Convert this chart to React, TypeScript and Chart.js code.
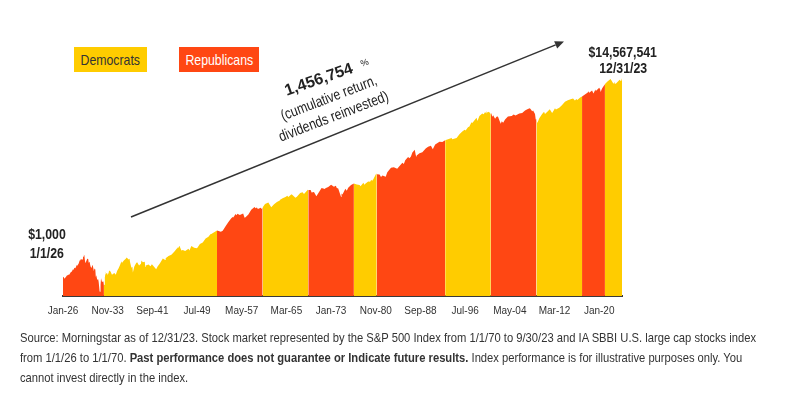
import React, { useEffect, useRef } from 'react';
import { Chart, registerables } from 'chart.js';

Chart.register(...registerables);

// Growth of $1,000 (month-end dates, value in $)
const dates = [
  '1925-12','1926-02','1926-03','1926-06','1926-09','1926-10','1926-12',
  '1927-01','1927-05','1927-06','1927-09','1927-10','1927-12',
  '1928-02','1928-05','1928-06','1928-09','1928-11','1928-12',
  '1929-01','1929-05','1929-06','1929-07','1929-08','1929-09','1929-10','1929-11','1929-12',
  '1930-03','1930-05','1930-06','1930-08','1930-09','1930-10','1930-12',
  '1931-02','1931-03','1931-05','1931-06','1931-08','1931-09','1931-10','1931-12',
  '1932-02','1932-03','1932-04','1932-05','1932-06','1932-07','1932-08','1932-10','1932-12',
  '1933-01','1933-02','1933-03','1933-04','1933-05','1933-06','1933-07','1933-09','1933-10','1933-12',
  '1934-01','1934-04','1934-07','1934-12',
  '1935-03','1935-06','1935-09','1935-12',
  '1936-03','1936-04','1936-08','1936-12',
  '1937-02','1937-06','1937-08','1937-09','1937-10','1937-12',
  '1938-02','1938-03','1938-06','1938-10','1938-12',
  '1939-04','1939-08','1939-09','1939-12',
  '1940-04','1940-05','1940-06','1940-12',
  '1941-04','1941-07','1941-12',
  '1942-04','1942-07','1942-12',
  '1943-06','1943-11','1943-12',
  '1944-06','1944-12',
  '1945-06','1945-12',
  '1946-01','1946-02','1946-05','1946-09','1946-12',
  '1947-05','1947-12',
  '1948-02','1948-06','1948-12',
  '1949-06','1949-12',
  '1950-06','1950-12',
  '1951-06','1951-10','1951-12',
  '1952-06','1952-12',
  '1953-08','1953-12',
  '1954-06','1954-12',
  '1955-06','1955-09','1955-10','1955-12',
  '1956-03','1956-05','1956-07','1956-12',
  '1957-07','1957-10','1957-12',
  '1958-06','1958-12',
  '1959-07','1959-09','1959-12',
  '1960-02','1960-08','1960-10','1960-12',
  '1961-05','1961-12',
  '1962-06','1962-12',
  '1963-06','1963-11','1963-12',
  '1964-06','1964-12',
  '1965-04','1965-06','1965-12',
  '1966-01','1966-09','1966-12',
  '1967-07','1967-12',
  '1968-03','1968-11','1968-12',
  '1969-05','1969-07','1969-12',
  '1970-05','1970-12',
  '1971-04','1971-11','1971-12',
  '1972-06','1972-12',
  '1973-06','1973-10','1973-12',
  '1974-03','1974-09','1974-10','1974-12',
  '1975-06','1975-09','1975-12',
  '1976-06','1976-12',
  '1977-06','1977-12',
  '1978-02','1978-08','1978-10','1978-12',
  '1979-06','1979-10','1979-12',
  '1980-02','1980-03','1980-11','1980-12',
  '1981-06','1981-09','1981-12',
  '1982-07','1982-10','1982-12',
  '1983-06','1983-12',
  '1984-07','1984-12',
  '1985-06','1985-09','1985-12',
  '1986-06','1986-09','1986-12',
  '1987-03','1987-08','1987-10','1987-11','1987-12',
  '1988-06','1988-12',
  '1989-07','1989-12',
  '1990-06','1990-10','1990-12',
  '1991-03','1991-12',
  '1992-06','1992-12',
  '1993-06','1993-12',
  '1994-01','1994-03','1994-12',
  '1995-06','1995-12',
  '1996-05','1996-07','1996-12',
  '1997-03','1997-07','1997-10','1997-12',
  '1998-06','1998-08','1998-12',
  '1999-06','1999-09','1999-12',
  '2000-02','2000-03','2000-05','2000-08','2000-12',
  '2001-01','2001-03','2001-05','2001-09','2001-12',
  '2002-03','2002-07','2002-09','2002-11','2002-12',
  '2003-02','2003-06','2003-12',
  '2004-08','2004-12',
  '2005-04','2005-12',
  '2006-06','2006-12',
  '2007-06','2007-10','2007-12',
  '2008-03','2008-05','2008-09','2008-10','2008-11','2008-12',
  '2009-02','2009-06','2009-12',
  '2010-04','2010-06','2010-12',
  '2011-04','2011-09','2011-12',
  '2012-03','2012-05','2012-12',
  '2013-06','2013-12',
  '2014-06','2014-12',
  '2015-05','2015-09','2015-12',
  '2016-02','2016-08','2016-12',
  '2017-06','2017-12',
  '2018-01','2018-03','2018-09','2018-12',
  '2019-04','2019-05','2019-12',
  '2020-02','2020-03','2020-06','2020-12',
  '2021-06','2021-12',
  '2022-06','2022-08','2022-09','2022-12',
  '2023-07','2023-10','2023-12',
];

const values = [
  1000,961,906,985,1090,1058,1116,
  1100,1270,1262,1440,1380,1535,
  1505,1760,1690,1900,2190,2204,
  2332,2290,2550,2670,2942,2800,2249,1968,2019,
  2384,2341,1960,2060,1797,1642,1516,
  1775,1654,1307,1492,1410,991,1079,859,
  883,781,625,487,486,671,930,777,789,
  796,655,678,963,1125,1275,1166,1180,1090,1215,
  1345,1290,1100,1197,
  1100,1330,1500,1768,
  2100,1930,2200,2368,
  2545,2290,2380,2040,1840,1538,
  1625,1225,1630,1950,2017,
  1720,1880,2190,2009,
  2070,1600,1720,1812,
  1650,1830,1602,
  1430,1640,1928,
  2400,2240,2427,
  2720,2906,
  3350,3965,
  4250,3970,4480,3560,3645,
  3470,3853,
  3560,4400,4065,
  3950,4829,
  5200,6360,
  6930,7800,7888,
  8600,9337,
  8760,9245,
  11500,14109,
  16900,18000,17500,18562,
  20700,19400,21000,19780,
  21300,17300,17648,
  20200,25300,
  28900,27200,28326,
  26500,28100,26500,28459,
  33400,36112,
  28600,32959,
  37000,39300,40474,
  44200,47144,
  49900,47200,53014,
  53700,45500,47681,
  57100,59115,
  54500,66700,65653,
  65800,58800,60072,
  48600,62481,
  72400,69000,71422,
  76300,84978,
  77000,80800,72520,
  71300,47100,55400,53324,
  70000,63900,73161,
  84300,90603,
  86200,84098,
  78700,93100,85000,89615,
  99200,98000,106140,
  112300,101900,145900,140551,
  139000,124000,133650,
  124500,154000,162264,
  194000,198790,
  185000,211254,
  247000,232000,279194,
  325000,306000,330761,
  404000,460000,360000,331000,348060,
  390000,406570,
  490000,534600,
  560000,470000,517654,
  592000,675797,
  670000,727630,
  762000,800320,
  828000,768000,810800,
  975000,1114283,
  1210000,1165000,1371348,
  1410000,1720000,1700000,1828830,
  2150000,1850000,2351510,
  2640000,2560000,2846270,
  2700000,2960000,2800000,2900000,2586975,
  2680000,2270000,2450000,2060000,2279643,
  2290000,1800000,1610000,1820000,1775842,
  1690000,1990000,2285153,
  2340000,2533777,
  2420000,2658186,
  2730000,3077904,
  3290000,3420000,3246881,
  2960000,3070000,2590000,2150000,1990000,2045535,
  1670000,2110000,2586784,
  2880000,2590000,2976354,
  3250000,2730000,3039155,
  3440000,3230000,3525420,
  4000000,4667303,
  5030000,5306247,
  5450000,4960000,5379473,
  5120000,5760000,6022858,
  6640000,7337650,
  7760000,7270000,8020000,7016260,
  8460000,7920000,9225780,
  8530000,7480000,8900000,10923323,
  12600000,14059410,
  11230000,12100000,10990000,11513250,
  13580000,12600000,14567541,
];

// Start of each presidential party period (month-end before inauguration)
const termStarts = ['1925-12','1933-02','1952-12','1960-12','1968-12','1976-12','1980-12','1992-12','2000-12','2008-12','2016-12','2020-12'];
const termParties = ['R','D','R','D','R','D','R','D','R','D','R','D'];

const tickLabels = ['Jan-26','Nov-33','Sep-41','Jul-49','May-57','Mar-65','Jan-73','Nov-80','Sep-88','Jul-96','May-04','Mar-12','Jan-20'];

const DEM = '#FFCC00';
const REP = '#FF4713';
const MONTHS = ['Jan','Feb','Mar','Apr','May','Jun','Jul','Aug','Sep','Oct','Nov','Dec'];

function dateToX(d: string): number {
  const [y, m] = d.split('-').map(Number);
  return y + m / 12;
}
function labelToX(l: string): number {
  const [mon, yy] = l.split('-');
  const n = Number(yy);
  const year = n < 25 ? 2000 + n : 1900 + n;
  return year + MONTHS.indexOf(mon) / 12;
}

const xs = dates.map(dateToX);
const termXs = termStarts.map(dateToX);
const tickXs = tickLabels.map(labelToX);

function partyColor(x: number): string {
  let p = termParties[0];
  for (let i = 0; i < termXs.length; i++) {
    if (x >= termXs[i] - 1e-6) p = termParties[i];
  }
  return p === 'D' ? DEM : REP;
}

const arrowPlugin = {
  id: 'arrowAnno',
  afterDraw(chart: any) {
    const ctx = chart.ctx as CanvasRenderingContext2D;
    const x0 = 131, y0 = 217, x1 = 564, y1 = 41.5;
    const ang = Math.atan2(y1 - y0, x1 - x0);
    const headLen = 9, headW = 4;
    const bx = x1 - headLen * Math.cos(ang);
    const by = y1 - headLen * Math.sin(ang);
    ctx.save();
    ctx.strokeStyle = '#333333';
    ctx.lineWidth = 1.5;
    ctx.beginPath();
    ctx.moveTo(x0, y0);
    ctx.lineTo(bx, by);
    ctx.stroke();
    ctx.fillStyle = '#333333';
    ctx.beginPath();
    ctx.moveTo(x1, y1);
    ctx.lineTo(bx - headW * Math.sin(ang), by + headW * Math.cos(ang));
    ctx.lineTo(bx + headW * Math.sin(ang), by - headW * Math.cos(ang));
    ctx.closePath();
    ctx.fill();
    ctx.restore();
  },
};

const SANS = "'Liberation Sans', Arial, Helvetica, sans-serif";
const NARROW_SCALE = 0.82;

export default function App() {
  const canvasRef = useRef<HTMLCanvasElement | null>(null);

  useEffect(() => {
    if (!canvasRef.current) return;
    const chart = new Chart(canvasRef.current, {
      type: 'line',
      data: {
        datasets: [
          {
            data: xs.map((x, i) => ({ x, y: values[i] })),
            fill: 'start',
            backgroundColor: REP,
            borderColor: 'rgba(0,0,0,0)',
            borderWidth: 0,
            pointRadius: 0,
            tension: 0,
            segment: {
              backgroundColor: (ctx: any) => partyColor(xs[ctx.p0DataIndex]),
              borderColor: () => 'rgba(0,0,0,0)',
            },
          } as any,
        ],
      },
      options: {
        animation: false,
        responsive: false,
        events: [],
        layout: { padding: { left: 63, right: 174, top: 60, bottom: 4 } },
        plugins: { legend: { display: false }, tooltip: { enabled: false } },
        scales: {
          x: {
            type: 'linear',
            min: 1926,
            max: 2024,
            grid: { display: false, drawTicks: false },
            border: { display: true, color: '#3a3a3a', width: 2 },
            afterBuildTicks: (scale: any) => {
              scale.ticks = tickXs.map((v) => ({ value: v }));
            },
            afterFit: (scale: any) => {
              scale.height = 30;
            },
            ticks: {
              autoSkip: false,
              maxRotation: 0,
              padding: 9,
              color: '#333333',
              font: { family: SANS, size: 10 },
              callback: (v: any) => {
                const idx = tickXs.findIndex((t) => Math.abs(t - Number(v)) < 1e-6);
                return idx >= 0 ? tickLabels[idx] : '';
              },
            },
          },
          y: {
            type: 'logarithmic',
            display: false,
            min: 394,
            max: 35200000,
          },
        },
      },
      plugins: [arrowPlugin],
    });
    return () => chart.destroy();
  }, []);

  const narrow: React.CSSProperties = {
    display: 'inline-block',
    transform: `scaleX(${NARROW_SCALE})`,
    transformOrigin: '50% 50%',
    whiteSpace: 'nowrap',
  };

  const rot = (left: number, cy: number, fs: number, deg: number, sx: number): React.CSSProperties => ({
    position: 'absolute',
    left,
    top: cy - fs / 2,
    lineHeight: fs + 'px',
    fontSize: fs,
    fontFamily: SANS,
    whiteSpace: 'nowrap',
    transformOrigin: '0 50%',
    transform: `rotate(${deg}deg) scaleX(${sx})`,
    color: '#222',
  });

  return (
    <div style={{ position: 'absolute', left: 0, top: 0, width: 796, height: 409, background: '#fff', overflow: 'hidden' }}>
      <canvas ref={canvasRef} width={796} height={330} style={{ position: 'absolute', left: 0, top: 0, width: 796, height: 330 }} />

      <div style={{ position: 'absolute', left: 74, top: 47, width: 73, height: 25, background: DEM, color: '#333', fontFamily: SANS, fontSize: 15, display: 'flex', alignItems: 'center', justifyContent: 'center' }}>
        <span style={narrow}>Democrats</span>
      </div>
      <div style={{ position: 'absolute', left: 179, top: 47, width: 80, height: 25, background: REP, color: '#fff', fontFamily: SANS, fontSize: 15, display: 'flex', alignItems: 'center', justifyContent: 'center' }}>
        <span style={narrow}>Republicans</span>
      </div>

      <span style={{ ...rot(284.8, 91.2, 16, -19, 1), fontWeight: 'bold' }}>1,456,754</span>
      <span style={rot(361, 64, 9, -19, 1)}>%</span>
      <span style={rot(280.5, 115, 15, -21, NARROW_SCALE)}>(cumulative return,</span>
      <span style={rot(279.3, 136, 15, -21, NARROW_SCALE)}>dividends reinvested)</span>

      <div style={{ position: 'absolute', left: 0, top: 223.5, width: 94, textAlign: 'center', fontFamily: SANS, fontWeight: 'bold', fontSize: 15, lineHeight: '19px', color: '#222' }}>
        <span style={narrow}>$1,000</span><br /><span style={narrow}>1/1/26</span>
      </div>
      <div style={{ position: 'absolute', left: 523, top: 44, width: 200, textAlign: 'center', fontFamily: SANS, fontWeight: 'bold', fontSize: 15, lineHeight: '15.5px', color: '#222' }}>
        <span style={narrow}>$14,567,541</span><br /><span style={narrow}>12/31/23</span>
      </div>

      <div style={{ position: 'absolute', left: 20, top: 328, width: 1000, fontFamily: SANS, fontSize: 13, lineHeight: '20px', color: '#333', whiteSpace: 'nowrap', transform: 'scaleX(0.862)', transformOrigin: '0 0' }}>
        Source: Morningstar as of 12/31/23. Stock market represented by the S&amp;P 500 Index from 1/1/70 to 9/30/23 and IA SBBI U.S. large cap stocks index
        <br />
        from 1/1/26 to 1/1/70. <b>Past performance does not guarantee or Indicate future results.</b> Index performance is for illustrative purposes only. You
        <br />
        cannot invest directly in the index.
      </div>
    </div>
  );
}
